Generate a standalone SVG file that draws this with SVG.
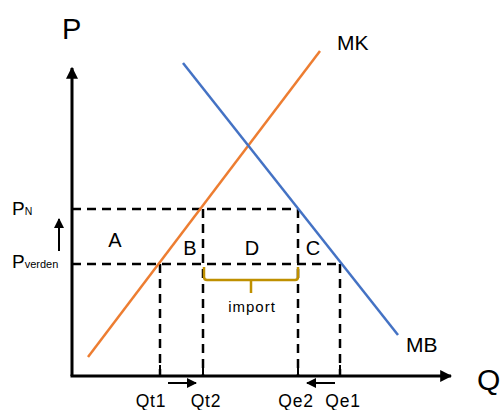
<svg xmlns="http://www.w3.org/2000/svg" width="502" height="410" viewBox="0 0 502 410">
<style>
text{font-family:"Liberation Sans",Arial,sans-serif;fill:#000}
.ax{stroke:#000;stroke-width:3;fill:none}
.dash{stroke:#000;stroke-width:2.5;stroke-dasharray:9 6;fill:none}
.tick{stroke:#000;stroke-width:2;fill:none}
.sm{stroke:#000;stroke-width:2;fill:none}
.lbl{font-size:17.5px;text-anchor:middle;letter-spacing:0.8px}
.area{font-size:20px;text-anchor:middle}
</style>
<defs>
<marker id="ah" viewBox="0 0 10 10" refX="9" refY="5" markerWidth="4" markerHeight="4" orient="auto" markerUnits="strokeWidth">
<path d="M0,0 L10,5 L0,10 z" fill="#000"/>
</marker>
<marker id="ahs" viewBox="0 0 10 10" refX="9" refY="5" markerWidth="5" markerHeight="5" orient="auto" markerUnits="strokeWidth">
<path d="M0,0 L10,5 L0,10 z" fill="#000"/>
</marker>
</defs>
<g id="axes">
<line class="ax" x1="72" y1="376" x2="72" y2="68" marker-end="url(#ah)"/>
<line class="ax" x1="70.5" y1="376" x2="451" y2="376" marker-end="url(#ah)"/>
<text x="62" y="39" font-size="29">P</text>
<text x="477" y="390" font-size="30">Q</text>
</g>
<g id="connectors">
<line class="dash" x1="72" y1="209" x2="298" y2="209"/>
<line class="dash" x1="72" y1="264" x2="340" y2="264"/>
<line class="dash" x1="160" y1="264" x2="160" y2="376"/>
<line class="dash" x1="203" y1="209" x2="203" y2="376"/>
<line class="dash" x1="298" y1="209" x2="298" y2="376"/>
<line class="dash" x1="340" y1="264" x2="340" y2="376"/>
<line class="tick" x1="160" y1="365" x2="160" y2="376"/>
<line class="tick" x1="203" y1="365" x2="203" y2="376"/>
<line class="tick" x1="298" y1="365" x2="298" y2="376"/>
<line class="tick" x1="340" y1="365" x2="340" y2="376"/>
<line class="sm" x1="168" y1="383" x2="196" y2="383" marker-end="url(#ahs)"/>
<line class="sm" x1="335" y1="383" x2="307" y2="383" marker-end="url(#ahs)"/>
<line class="sm" x1="59" y1="251" x2="59" y2="219" marker-end="url(#ahs)"/>
</g>
<g id="MK">
<line x1="88" y1="357" x2="320" y2="51" stroke="#ED7D31" stroke-width="2.5"/>
<text x="337" y="50" font-size="21">MK</text>
</g>
<g id="MB">
<line x1="183" y1="63" x2="398" y2="335" stroke="#4472C4" stroke-width="2.5"/>
<text x="406" y="352" font-size="21">MB</text>
</g>
<g id="prices">
<text x="12" y="215" font-size="19">P<tspan font-size="10.5">N</tspan></text>
<text x="12" y="268" font-size="19">P<tspan font-size="11">verden</tspan></text>
</g>
<g id="areas">
<text class="area" x="115" y="247">A</text>
<text class="area" x="190" y="255">B</text>
<text class="area" x="252" y="255">D</text>
<text class="area" x="313" y="255">C</text>
</g>
<g id="import">
<path d="M204,267 L204,277 Q204,280 207,280 L295,280 Q298,280 298,277 L298,267 M251,280 L251,293" stroke="#BF9000" stroke-width="2.5" fill="none"/>
<text x="252" y="312" font-size="15" text-anchor="middle" letter-spacing="1">import</text>
</g>
<g id="qlabels">
<text class="lbl" x="151" y="407">Qt1</text>
<text class="lbl" x="206" y="407">Qt2</text>
<text class="lbl" x="296" y="407">Qe2</text>
<text class="lbl" x="343" y="407">Qe1</text>
</g>
</svg>
